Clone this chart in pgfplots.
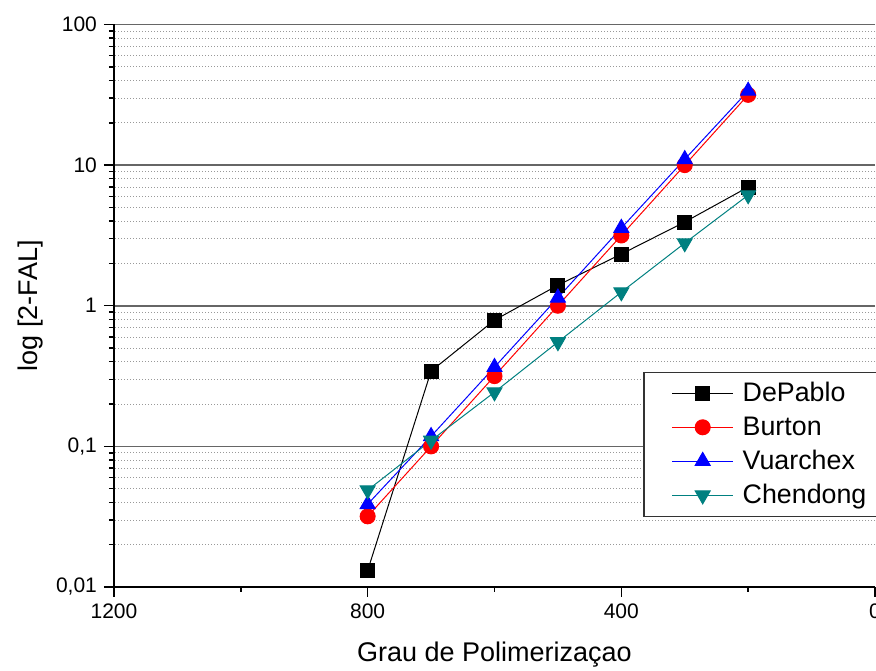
\documentclass[border=0pt]{standalone}
\usepackage{fontspec}
\setmainfont{Liberation Sans}
\usepackage{pgfplots}
\pgfplotsset{compat=1.18}
\definecolor{tealc}{RGB}{0,128,128}

\begin{document}
\begin{tikzpicture}
\begin{axis}[
  scale only axis,
  width=380.5pt, height=281.25pt,
  x dir=reverse,
  xmin=0, xmax=1200,
  ymode=log, ymin=0.01, ymax=100,
  axis x line*=bottom, axis y line*=left,
  axis line style={black, line width=0.75pt, -},
  xtick={0,400,800,1200},
  xticklabels={0,400,800,1200},
  minor xtick={200,600,1000},
  ytick={0.01,0.1,1,10,100},
  yticklabels={{0,01},{0,1},1,10,100},
  minor ytick={0.02,0.03,0.04,0.05,0.06,0.07,0.08,0.09,
               0.2,0.3,0.4,0.5,0.6,0.7,0.8,0.9,
               2,3,4,5,6,7,8,9,20,30,40,50,60,70,80,90},
  tick align=outside,
  major tick length=5pt, minor tick length=2.5pt,
  tick style={black, line width=0.75pt},
  ymajorgrids, yminorgrids,
  major grid style={black!60, line width=0.8pt, solid},
  minor grid style={black!40, line width=0.4pt, dash pattern=on 0.5pt off 1pt},
  tick label style={font=\fontsize{10.5}{12}\selectfont},
  label style={font=\fontsize{13.5}{16}\selectfont},
  xlabel={Grau de Polimerizaçao},
  ylabel={log [2-FAL]},
  xlabel style={at={(axis description cs:0.5,-0.121)}, anchor=center},
  ylabel style={at={(axis description cs:-0.11,0.5)}, anchor=center},
  legend style={at={(axis description cs:0.695,0.383)}, anchor=north west,
    draw=black!80, line width=0.8pt, font=\fontsize{13.4}{15}\selectfont,
    inner xsep=6pt, inner ysep=3pt, row sep=1.9pt, column sep=2.5pt, fill=white},
  legend cell align=left,
  legend image code/.code={
    \path (0pt,0pt);
    \draw[mark repeat=2, mark phase=2, line width=0.5pt]
      plot coordinates {(8pt,0pt) (23.25pt,0pt) (38.5pt,0pt)};
  },
]
\addplot[black, line width=0.5pt, mark=square*, mark size=3.5pt] coordinates {
  (800,0.0131) (700,0.343) (600,0.79) (500,1.40) (400,2.33) (300,3.94) (200,6.98)
};
\addlegendentry{DePablo}
\addplot[red, line width=0.5pt, mark=*, mark size=3.75pt] coordinates {
  (800,0.0318) (700,0.100) (600,0.316) (500,1.00) (400,3.16) (300,10.0) (200,31.6)
};
\addlegendentry{Burton}
\addplot[blue, line width=0.5pt, mark=triangle*, mark size=4.3pt] coordinates {
  (800,0.0388) (700,0.118) (600,0.366) (500,1.14) (400,3.57) (300,11.0) (200,33.7)
};
\addlegendentry{Vuarchex}
\addplot[tealc, line width=0.5pt, mark=triangle*, mark size=4.3pt,
  mark options={rotate=180}] coordinates {
  (800,0.0488) (700,0.110) (600,0.243) (500,0.552) (400,1.25) (300,2.79) (200,6.12)
};
\addlegendentry{Chendong}
\coordinate (bl) at (axis description cs:0,0);
\coordinate (tr) at (axis description cs:1,1);
\end{axis}
\pgfresetboundingbox
\useasboundingbox ([shift={(-57pt,-42pt)}]bl) rectangle ([shift={(0.5pt,12.25pt)}]tr);
\end{tikzpicture}
\end{document}
